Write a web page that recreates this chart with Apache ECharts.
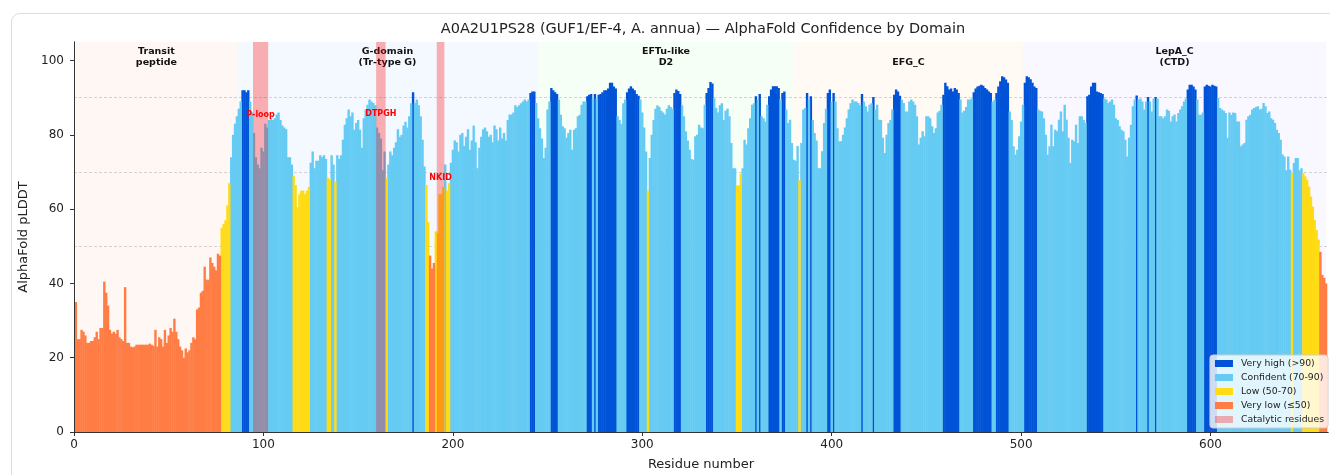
<!DOCTYPE html>
<html>
<head>
<meta charset="utf-8">
<title>A0A2U1PS28 pLDDT</title>
<script src="https://cdn.jsdelivr.net/npm/echarts@6.0.0/dist/echarts.min.js"></script>
<style>
html, body { margin: 0; padding: 0; background: #fff; width: 1330px; height: 475px; overflow: hidden; }
.card { position: absolute; left: 11px; top: 13px; width: 1340px; height: 480px; border: 1.5px solid #dddddd; border-radius: 9px; box-sizing: border-box; }
#chart { position: absolute; left: 0; top: 0; width: 1330px; height: 475px; }
</style>
</head>
<body>
<div class="card"></div>
<div id="chart"></div>
<script>
// per-residue pLDDT, residue 1..661
var plddt = [
  35, 25, 25, 27.5, 27, 26, 24, 24, 24.5, 24.5,
  25.5, 27, 25, 28, 28, 40.5, 37.5, 34, 27.5, 26.5,
  27, 26.5, 27.5, 25.5, 25, 24.5, 39, 24, 24, 23,
  22.8, 23, 23.5, 23.5, 23.5, 23.5, 23.5, 23.5, 23.5, 23.8,
  23.5, 23.2, 27.5, 23, 25.5, 25, 23, 27.5, 24, 26,
  28, 27, 30.5, 27, 25, 23, 22, 20, 22.5, 21.5,
  22, 24, 25.5, 25, 33, 33.5, 37.5, 38, 44.5, 41,
  41, 47, 45.5, 44.5, 43.5, 48, 47.5, 55, 56, 57,
  61, 67, 74, 80, 83, 85, 87, 89, 92, 92,
  91.5, 92, 89, 86, 80.5, 74, 72, 71, 76.5, 75.5,
  83, 82, 84, 84.5, 84, 84.5, 85.5, 86, 84, 82.5,
  82, 81.5, 74, 74, 72, 69, 66.5, 60.5, 64, 65,
  65, 64, 65, 66, 72.5, 75.5, 71, 73, 73, 74.5,
  74, 74.5, 73.5, 68.5, 68, 74.5, 72, 67.5, 74.5, 73.5,
  74.5, 78.7, 82.7, 84.5, 86.8, 85, 86, 81.4, 83.2, 84,
  81.4, 76.5, 84.5, 86.8, 88.1, 89.5, 89, 88.6, 88, 82,
  80.5, 79, 70.5, 75.5, 68.5, 72, 75.5, 74.5, 76.5, 78,
  81.5, 79.5, 80, 82.5, 83.5, 82, 85, 88.5, 91.5, 88.6,
  89.5, 88, 85, 78.7, 71.5, 66.5, 56.5, 47.5, 44, 45.5,
  54, 53.5, 64, 64, 66, 72, 65, 67, 72.5, 76,
  78.5, 78, 75.5, 80, 80.5, 77, 79.5, 81.5, 76, 78.5,
  82.5, 78, 71, 76.5, 79.5, 81.5, 82, 81, 79.5, 80,
  78, 82.5, 81.5, 78.5, 82, 79, 80.5, 78.5, 84, 85.5,
  85.5, 86, 88, 87.5, 88, 88.5, 89, 89.5, 89, 89.5,
  91.3, 91.7, 91.7, 88.6, 84.5, 81.8, 79, 73.8, 76.5, 86.8,
  89, 92.6, 92, 91.5, 91, 89.5, 85.4, 82.3, 81.8, 79.2,
  80.5, 81.4, 76, 81.4, 81.8, 85, 85.4, 88.1, 89, 89,
  90.4, 90.8, 91, 89.8, 91, 89.8, 90.8, 91, 91.5, 92,
  92, 92.5, 94, 94, 93, 92.5, 85, 84, 83, 88.5,
  89.5, 91.5, 92.5, 93.1, 92.5, 92, 91, 90.5, 89.5, 86,
  82, 75.5, 65, 73.8, 80, 84, 87, 88, 87.5, 86.5,
  86, 85.5, 87, 88, 87.5, 87, 91.3, 92.2, 91.8, 91,
  88, 85, 81, 78.5, 76, 73.5, 73.3, 79.6, 80, 82.7,
  82, 81.8, 88.1, 91.3, 92.6, 94.2, 93.8, 89.8, 87.2, 86,
  88, 88.5, 84, 86.5, 87, 85, 77.8, 71, 71, 66.4,
  66.4, 69.5, 71, 78.7, 77.4, 81.8, 84.5, 88.1, 88.5, 90.4,
  89.5, 91, 85, 84.5, 83.6, 88.1, 90.4, 92.2, 93.1, 93.1,
  93.1, 92.6, 89.5, 91.3, 91.7, 86.8, 83.2, 84.1, 77.8, 73.3,
  73, 77, 67.9, 77.8, 86.8, 87.2, 91.3, 89.5, 90.4, 84,
  80.5, 78.5, 71, 71, 75.6, 83.2, 87, 91.3, 92.2, 89,
  91.3, 89, 81.8, 78.3, 78.3, 80, 82, 84.5, 86.8, 88.5,
  89.5, 89, 89, 88.6, 88, 91, 89, 87.7, 86.3, 88.1,
  88.5, 90.2, 86.8, 88.1, 84.1, 84, 79.2, 75.1, 80, 83.2,
  84, 86.8, 90.8, 92.2, 91.7, 90.5, 89.5, 88.6, 86.3, 86.3,
  89, 89.5, 89, 88.1, 85, 77.4, 79.2, 81, 79.6, 85,
  85, 84.5, 82.3, 80.5, 81.8, 86, 86.5, 88.1, 90.8, 94,
  93.1, 92.2, 92.5, 91.7, 92.6, 92.2, 91.3, 89.5, 86, 86.5,
  87.5, 89.5, 89.5, 89.8, 91.5, 92.5, 93, 93.2, 93.5, 93.2,
  92.6, 92.2, 91.7, 91.3, 89, 89.5, 91.3, 93, 94.4, 95.8,
  95.5, 94.9, 94, 86.3, 84, 76.9, 74.7, 76, 79.6, 83.6,
  88.1, 94, 95.8, 95.5, 95, 94, 93, 92.6, 86.8, 86.5,
  86.3, 84.5, 80, 74.7, 76.9, 82.7, 76.9, 81.4, 81, 84.1,
  86.3, 81, 88.1, 84.1, 79.2, 72.4, 78.7, 78.3, 82.7, 77.8,
  85, 85, 84, 83.2, 90.4, 90.8, 93, 94, 94, 91.7,
  91.5, 91.3, 91, 89.8, 89.5, 88.6, 89, 89.5, 88.1, 84.5,
  84, 82.3, 81.4, 81, 78.7, 74.2, 79.2, 82.7, 87.7, 89.5,
  90.6, 89.5, 89.8, 89, 86.8, 89, 90.2, 89, 86.3, 89.8,
  90.2, 89.8, 85, 85, 84.5, 85, 86.8, 86.5, 83.6, 85,
  85.5, 83.6, 85.9, 86.8, 87.7, 89, 89.8, 92.2, 93.5, 93.5,
  93, 92.2, 89.5, 85.4, 85.4, 86, 93, 93.5, 93.2, 93,
  93.5, 93.2, 93, 89.9, 87.2, 86.8, 86.5, 85.9, 79.2, 86,
  85.4, 86, 85.9, 83.6, 83.6, 76.9, 77.4, 77.8, 84.1, 85,
  85.4, 86.8, 87.2, 87.5, 87.7, 86.8, 87, 88.6, 87.7, 85.9,
  86.3, 84.5, 84.1, 83.2, 81.4, 80.5, 78.7, 74.7, 74.2, 70.5,
  74.2, 70.6, 69.7, 72.4, 73.8, 73.8, 70.5, 71, 69.7, 68.8,
  67.9, 66.1, 63.4, 60.7, 57.1, 54.4, 51.8, 48.5, 42.3, 41.5,
  40
];

// confidence classes (lower bound, exclusive) and legend names
var classNames = ['Very high (>90)', 'Confident (70-90)', 'Low (50-70)', 'Very low (≤50)'];
var classLower = [90, 70, 50, -Infinity];
var thresholds = [50, 70, 90];

// domains
var domainNames = ['Transit\npeptide', 'G-domain\n(Tr-type G)', 'EFTu-like\nD2', 'EFG_C', 'LepA_C\n(CTD)'];
var domainStart = [1, 86, 245, 380, 501];
var domainEnd = [86, 245, 380, 501, 661];

// catalytic motifs
var motifNames = ['P-loop', 'DTPGH', 'NKID'];
var motifStart = [94.5, 159.5, 191.5];
var motifEnd = [102.5, 164.5, 195.5];
var motifLabelY = [85.5, 85.7, 68.5];

var xTicks = [0, 100, 200, 300, 400, 500, 600];
var yTicks = [0, 20, 40, 60, 80, 100];

var FONT = 'DejaVu Sans';
var classColors = ['#0053D6', '#65CBF3', '#FFDB13', '#FF7D45'];
var domainFill = ['#fff7f3', '#f4f8ff', '#f6fff6', '#fffaf3', '#f9f7ff'];
var motifFill = 'rgba(255,0,0,0.3)';

var xMax = plddt.length + 1;
var GRID = { left: 74, right: 2, top: 42, bottom: 43 };
// one residue is ~1.9px wide; a little overlap keeps neighbouring bars seamless
var barPx = (1330 - GRID.left - GRID.right) / xMax + 0.5;

var classData = [[], [], [], []];
plddt.forEach(function (v, i) {
  for (var k = 0; k < classLower.length; k++) {
    if (v > classLower[k]) { classData[k].push([i + 1, v]); break; }
  }
});

var chart = echarts.init(document.getElementById('chart'));

var series = classNames.map(function (name, k) {
  return {
    name: name,
    type: 'bar',
    data: classData[k],
    barGap: '-100%',
    barWidth: barPx,
    itemStyle: { color: classColors[k] },
    z: 2
  };
});

// domain shading + threshold lines (under the bars)
series.push({
  name: 'domains',
  type: 'line',
  data: [],
  markArea: {
    silent: true,
    z: 0,
    label: {
      show: true,
      position: ['50%', 26],
      align: 'center',
      verticalAlign: 'bottom',
      fontFamily: FONT,
      fontWeight: 'bold',
      fontSize: 9.5,
      lineHeight: 11,
      color: '#111'
    },
    data: domainNames.map(function (name, i) {
      return [
        { name: name, xAxis: domainStart[i], itemStyle: { color: domainFill[i] } },
        { xAxis: domainEnd[i] }
      ];
    })
  },
  markLine: {
    silent: true,
    z: 1,
    symbol: 'none',
    label: { show: false },
    lineStyle: { color: '#c8c8c8', type: [3, 2], width: 0.8 },
    data: thresholds.map(function (t) { return { yAxis: t }; })
  }
});

// catalytic residues (drawn over the bars)
series.push({
  name: 'Catalytic residues',
  type: 'line',
  data: [],
  itemStyle: { color: motifFill },
  markArea: {
    silent: true,
    z: 3,
    itemStyle: { color: motifFill },
    label: { show: false },
    data: motifNames.map(function (name, i) {
      return [{ name: name, xAxis: motifStart[i] }, { xAxis: motifEnd[i] }];
    })
  },
  markPoint: {
    silent: true,
    z: 4,
    symbol: 'rect',
    symbolSize: 1,
    itemStyle: { color: 'rgba(0,0,0,0)' },
    label: {
      show: true,
      position: 'inside',
      formatter: '{b}',
      color: '#ff0000',
      fontFamily: FONT,
      fontWeight: 'bold',
      fontSize: 8
    },
    data: motifNames.map(function (name, i) {
      return { name: name, coord: [(motifStart[i] + motifEnd[i]) / 2, motifLabelY[i]] };
    })
  }
});

var legendData = classNames.map(function (name, k) {
  return { name: name, itemStyle: { color: classColors[k] } };
});
legendData.push({ name: 'Catalytic residues', itemStyle: { color: motifFill } });

chart.setOption({
  animation: false,
  textStyle: { fontFamily: FONT },
  grid: { left: GRID.left, right: GRID.right, top: GRID.top, bottom: GRID.bottom, outerBoundsMode: 'none' },
  graphic: [{
    type: 'text',
    x: 703,
    y: 29,
    style: {
      text: 'A0A2U1PS28 (GUF1/EF-4, A. annua) — AlphaFold Confidence by Domain',
      font: '14.5px "DejaVu Sans"',
      fill: '#222',
      align: 'center',
      verticalAlign: 'middle'
    }
  }],
  legend: {
    orient: 'vertical',
    right: 2,
    bottom: 47,
    icon: 'rect',
    itemWidth: 18,
    itemHeight: 7,
    itemGap: 5,
    padding: [4, 4, 4, 5],
    backgroundColor: 'rgba(255,255,255,0.8)',
    borderColor: '#cccccc',
    borderWidth: 1,
    borderRadius: 3,
    selectedMode: false,
    textStyle: { fontFamily: FONT, fontSize: 9.3, color: '#222', padding: [0, 0, 0, 3] },
    data: legendData
  },
  xAxis: [{
    type: 'value',
    min: 0,
    max: xMax,
    z: 5,
    name: 'Residue number',
    nameLocation: 'middle',
    nameGap: 26,
    nameTextStyle: { fontFamily: FONT, fontSize: 13, color: '#222' },
    axisLine: { lineStyle: { color: '#333', width: 1 } },
    axisTick: { length: 4, lineStyle: { color: '#333' }, customValues: xTicks },
    axisLabel: { customValues: xTicks, fontSize: 12, color: '#222', margin: 7 },
    splitLine: { show: false }
  }, {
    type: 'value',
    position: 'top',
    min: 0,
    max: xMax,
    z: 5,
    axisLine: { show: true, lineStyle: { color: '#333', width: 1 } },
    axisTick: { show: false },
    axisLabel: { show: false },
    splitLine: { show: false }
  }],
  yAxis: [{
    type: 'value',
    min: 0,
    max: 105,
    z: 5,
    name: 'AlphaFold pLDDT',
    nameLocation: 'middle',
    nameGap: 41,
    nameTextStyle: { fontFamily: FONT, fontSize: 13, color: '#222' },
    axisLine: { show: true, lineStyle: { color: '#333', width: 1 } },
    axisTick: { show: true, length: 4, lineStyle: { color: '#333' }, customValues: yTicks },
    axisLabel: { customValues: yTicks, fontSize: 12, color: '#222', margin: 10 },
    splitLine: { show: false }
  }, {
    type: 'value',
    position: 'right',
    min: 0,
    max: 105,
    z: 5,
    axisLine: { show: true, lineStyle: { color: '#333', width: 1 } },
    axisTick: { show: false },
    axisLabel: { show: false },
    splitLine: { show: false }
  }],
  series: series
});
</script>
</body>
</html>
